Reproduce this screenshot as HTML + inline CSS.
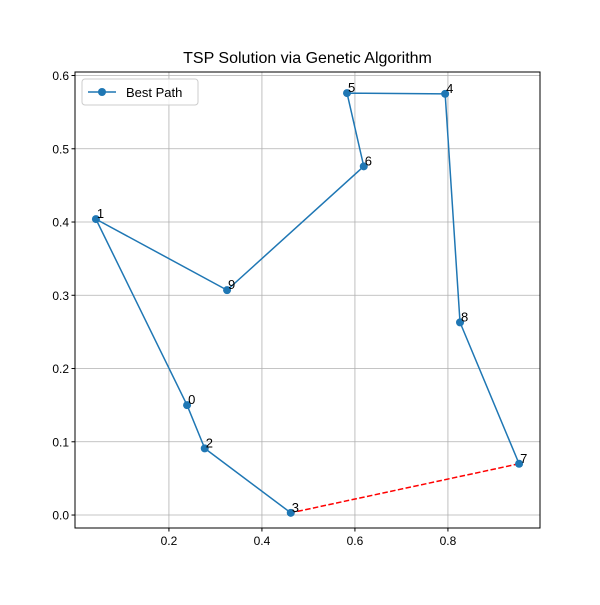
<!DOCTYPE html>
<html><head><meta charset="utf-8"><style>
body{margin:0;background:#fff;}
svg{font-family:"Liberation Sans","DejaVu Sans",sans-serif;}
</style></head><body>
<svg id="chart" width="600" height="600" xmlns="http://www.w3.org/2000/svg">
<rect width="600" height="600" fill="#fff"/>
<text x="307.5" y="63" text-anchor="middle" font-size="16">TSP Solution via Genetic Algorithm</text>
<g id="grid"></g>
<g id="marks"></g>
<g id="labels"></g>
<rect x="75" y="72" width="465" height="456" fill="none" stroke="#000" stroke-width="1"/>
<g id="ticks"></g>
<g>
<rect x="82" y="79" width="116" height="26" rx="3" fill="#fff" fill-opacity="0.8" stroke="#ccc"/>
<line x1="88" y1="92" x2="116" y2="92" stroke="#1f77b4" stroke-width="1.5"/>
<circle cx="102" cy="92" r="4" fill="#1f77b4"/>
<text x="126" y="97" font-size="13">Best Path</text>
</g>
</svg>
<script>
const cityIds=[0,1,2,3,4,5,6,7,8,9];
const cityX=[0.239,0.043,0.277,0.462,0.794,0.583,0.619,0.953,0.826,0.325];
const cityY=[0.150,0.404,0.091,0.003,0.575,0.576,0.476,0.070,0.263,0.307];
const route=[3,2,0,1,9,6,5,4,8,7];
const xTicks=[0.2,0.4,0.6,0.8];
const yTicks=[0.0,0.1,0.2,0.3,0.4,0.5,0.6];
const L=75,R=540,T=72,B=528;
const xMin=-0.002,xMax=0.998,yMin=-0.0177,yMax=0.6048;
const sx=v=>L+(v-xMin)/(xMax-xMin)*(R-L);
const sy=v=>B-(v-yMin)/(yMax-yMin)*(B-T);
const NS="http://www.w3.org/2000/svg";
function mk(t,a,p){const e=document.createElementNS(NS,t);for(const k in a)e.setAttribute(k,a[k]);p.appendChild(e);return e;}
const grid=document.getElementById('grid'),ticks=document.getElementById('ticks'),marks=document.getElementById('marks'),labels=document.getElementById('labels');
xTicks.forEach(v=>{const x=sx(v);
 const g=mk('line',{x1:x,x2:x,y1:T,y2:B,stroke:'#b0b0b0','stroke-width':0.8},grid);
 
 
 mk('line',{x1:x,x2:x,y1:B,y2:B+3.5,stroke:'#000'},ticks);
 const t=mk('text',{x:x,y:B+17,'text-anchor':'middle','font-size':12},ticks);t.textContent=v.toFixed(1);
 
 });
yTicks.forEach(v=>{const y=sy(v);
 const g=mk('line',{x1:L,x2:R,y1:y,y2:y,stroke:'#b0b0b0','stroke-width':0.8},grid);
 
 
 mk('line',{x1:L-3.5,x2:L,y1:y,y2:y,stroke:'#000'},ticks);
 const t=mk('text',{x:L-6,y:y+4.5,'text-anchor':'end','font-size':12},ticks);t.textContent=v.toFixed(1);
 
 });
const pts=route.map(i=>sx(cityX[i])+','+sy(cityY[i])).join(' ');
const pl=mk('polyline',{points:pts,fill:'none',stroke:'#1f77b4','stroke-width':1.5},marks);


const a=route[route.length-1],b=route[0];
const cl=mk('line',{x1:sx(cityX[a]),y1:sy(cityY[a]),x2:sx(cityX[b]),y2:sy(cityY[b]),stroke:'#ff0000','stroke-width':1.5,'stroke-dasharray':'5.5,2.4'},marks);


route.forEach(i=>{const c=mk('circle',{cx:sx(cityX[i]),cy:sy(cityY[i]),r:4,fill:'#1f77b4'},marks);
 
 });
cityIds.forEach((id,i)=>{const t=mk('text',{x:sx(cityX[i])+1,y:sy(cityY[i])-1,'font-size':13},labels);t.textContent=id;
 
 });
</script>
</body></html>
